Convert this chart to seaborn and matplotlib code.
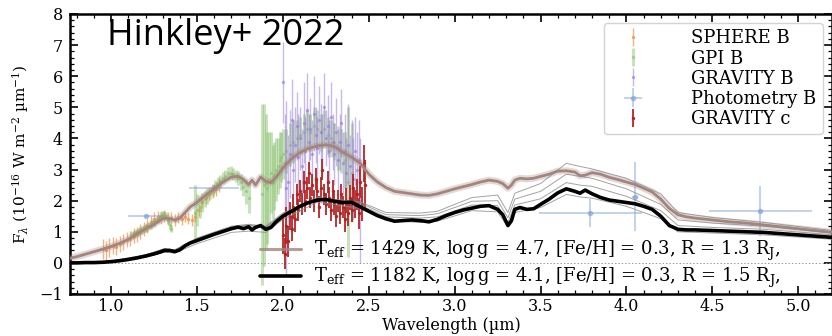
import matplotlib
matplotlib.use("Agg")
import matplotlib.pyplot as plt
import seaborn as sns
from matplotlib.lines import Line2D
from matplotlib.ticker import MultipleLocator, FormatStrFormatter

# ---------------- model spectra (wavelength in micron, flux in 1e-16 W m^-2 um^-1)
model_wl = [0.76, 0.80, 0.85, 0.90, 0.95, 1.00, 1.05, 1.10, 1.15, 1.20, 1.25, 1.28,
            1.31, 1.34, 1.37, 1.40, 1.43, 1.46, 1.50, 1.55, 1.60, 1.65, 1.70, 1.74,
            1.77, 1.80, 1.82, 1.84, 1.87, 1.90, 1.93, 1.96, 2.00, 2.05, 2.10, 2.15,
            2.20, 2.25, 2.30, 2.35, 2.40, 2.45, 2.50, 2.55, 2.60, 2.65, 2.70, 2.75,
            2.80, 2.85, 2.90, 2.95, 3.00, 3.05, 3.10, 3.15, 3.20, 3.25, 3.28, 3.31,
            3.33, 3.35, 3.38, 3.42, 3.46, 3.50, 3.55, 3.60, 3.65, 3.70, 3.73, 3.76,
            3.80, 3.85, 3.90, 3.95, 4.00, 4.05, 4.10, 4.15, 4.20, 4.25, 4.30, 4.35,
            4.40, 4.50, 4.60, 4.70, 4.80, 4.90, 5.00, 5.10, 5.20]
model_b = [0.15, 0.20, 0.28, 0.36, 0.44, 0.53, 0.63, 0.76, 0.93, 1.10, 1.24, 1.36,
           1.44, 1.42, 1.38, 1.44, 1.62, 1.80, 1.95, 2.18, 2.38, 2.60, 2.76, 2.78,
           2.68, 2.52, 2.66, 2.50, 2.76, 2.62, 2.58, 2.75, 3.05, 3.35, 3.55, 3.68,
           3.76, 3.80, 3.74, 3.55, 3.40, 3.20, 2.85, 2.60, 2.42, 2.30, 2.26, 2.22,
           2.18, 2.17, 2.22, 2.30, 2.38, 2.45, 2.52, 2.60, 2.66, 2.62, 2.55, 2.40,
           2.50, 2.66, 2.72, 2.70, 2.72, 2.78, 2.85, 2.95, 2.96, 2.92, 2.80, 2.82,
           2.90, 2.85, 2.75, 2.68, 2.60, 2.52, 2.40, 2.28, 2.05, 1.75, 1.55, 1.48,
           1.44, 1.38, 1.32, 1.28, 1.22, 1.16, 1.10, 1.04, 0.98]
model_c = [0.00, 0.00, 0.01, 0.01, 0.02, 0.04, 0.07, 0.11, 0.16, 0.22, 0.29, 0.34,
           0.40, 0.40, 0.36, 0.42, 0.55, 0.64, 0.72, 0.82, 0.92, 1.01, 1.10, 1.15,
           1.10, 1.16, 1.06, 1.14, 1.20, 1.08, 1.14, 1.32, 1.50, 1.66, 1.82, 1.94,
           2.02, 2.04, 1.98, 1.94, 1.95, 1.80, 1.66, 1.52, 1.42, 1.34, 1.36, 1.38,
           1.36, 1.32, 1.40, 1.52, 1.62, 1.70, 1.76, 1.82, 1.84, 1.72, 1.55, 1.20,
           1.35, 1.72, 1.78, 1.72, 1.74, 1.88, 2.05, 2.25, 2.38, 2.30, 2.24, 2.34,
           2.22, 2.10, 2.02, 1.98, 1.94, 1.90, 1.82, 1.72, 1.50, 1.20, 1.08, 1.06,
           1.06, 1.04, 1.02, 1.00, 0.98, 0.94, 0.90, 0.86, 0.82]

# posterior draws around the planet c model
draw_wl = [0.76, 1.00, 1.20, 1.31, 1.37, 1.50, 1.70, 1.80, 1.90, 2.00, 2.20, 2.45,
           2.60, 2.80, 2.90, 3.10, 3.25, 3.31, 3.35, 3.50, 3.65, 3.73, 3.80, 4.00,
           4.20, 4.30, 4.50, 4.80, 5.20]
draw_1 = [0.00, 0.03, 0.18, 0.34, 0.32, 0.62, 0.98, 1.02, 0.98, 1.40, 1.95, 1.75,
          1.36, 1.30, 1.34, 1.68, 1.64, 1.15, 1.62, 1.78, 2.20, 2.12, 2.08, 1.82,
          1.42, 1.00, 0.96, 0.90, 0.76]
draw_2 = [0.00, 0.05, 0.24, 0.44, 0.40, 0.76, 1.14, 1.20, 1.12, 1.55, 2.06, 1.86,
          1.48, 1.44, 1.48, 1.86, 1.84, 1.30, 1.86, 2.06, 2.58, 2.50, 2.46, 2.14,
          1.68, 1.20, 1.14, 1.08, 0.90]
draw_3 = [0.00, 0.05, 0.25, 0.45, 0.41, 0.78, 1.16, 1.22, 1.15, 1.58, 2.08, 1.92,
          1.55, 1.52, 1.58, 1.98, 2.00, 1.45, 2.05, 2.30, 2.85, 2.78, 2.72, 2.38,
          1.88, 1.38, 1.28, 1.18, 0.96]
draw_4 = [0.00, 0.06, 0.26, 0.46, 0.42, 0.80, 1.18, 1.24, 1.18, 1.60, 2.10, 1.96,
          1.62, 1.60, 1.66, 2.10, 2.18, 1.62, 2.24, 2.55, 3.20, 3.10, 3.02, 2.72,
          2.22, 1.62, 1.46, 1.30, 1.04]

# ---------------- observations
sphere_wl = [0.95, 0.97, 0.99, 1.01, 1.03, 1.05, 1.07, 1.09, 1.11, 1.13, 1.15, 1.17,
             1.19, 1.21, 1.23, 1.25, 1.27, 1.29, 1.31, 1.33, 1.35, 1.37, 1.39, 1.41,
             1.43, 1.45, 1.47, 1.49, 1.51, 1.53, 1.55, 1.57, 1.59, 1.61, 1.63]
sphere_f = [0.45, 0.40, 0.50, 0.55, 0.52, 0.62, 0.66, 0.75, 0.78, 0.88, 0.92, 1.00,
            1.10, 1.18, 1.30, 1.40, 1.48, 1.46, 1.50, 1.42, 1.45, 1.38, 1.46, 1.40,
            1.48, 1.42, 1.38, 1.48, 1.70, 1.95, 2.08, 2.20, 2.30, 2.38, 2.50]
sphere_e = [0.32, 0.30, 0.30, 0.28, 0.28, 0.26, 0.26, 0.25, 0.25, 0.24, 0.24, 0.24,
            0.22, 0.22, 0.22, 0.22, 0.20, 0.20, 0.20, 0.20, 0.18, 0.18, 0.18, 0.18,
            0.18, 0.18, 0.18, 0.18, 0.20, 0.20, 0.20, 0.20, 0.20, 0.22, 0.22]

gpi_wl = [1.12, 1.13, 1.14, 1.15, 1.16, 1.17, 1.18, 1.19, 1.20, 1.21, 1.22, 1.23,
          1.24, 1.25, 1.26, 1.27, 1.28, 1.29, 1.30, 1.31, 1.32, 1.33, 1.34, 1.35,
          1.49, 1.50, 1.515, 1.53, 1.545, 1.56, 1.575, 1.59, 1.605, 1.62, 1.635, 1.65,
          1.665, 1.68, 1.695, 1.71, 1.725, 1.74, 1.755, 1.77, 1.785, 1.80,
          1.88, 1.89, 1.90, 1.91, 1.92, 1.93, 1.94, 1.95, 1.96, 1.97, 1.98, 1.99,
          2.00, 2.02, 2.04, 2.06, 2.08, 2.10, 2.12, 2.14, 2.16, 2.18, 2.20, 2.22,
          2.24, 2.26, 2.28, 2.30, 2.32, 2.34, 2.36, 2.38, 2.40]
gpi_f = [0.90, 0.92, 0.95, 0.98, 1.00, 1.04, 1.06, 1.10, 1.12, 1.15, 1.20, 1.24,
         1.28, 1.32, 1.36, 1.40, 1.45, 1.50, 1.55, 1.56, 1.50, 1.38, 1.22, 1.10,
         1.60, 1.70, 1.80, 1.95, 2.05, 2.15, 2.25, 2.35, 2.45, 2.55, 2.62, 2.72,
         2.80, 2.88, 2.90, 2.85, 2.80, 2.72, 2.60, 2.45, 2.30, 2.10,
         2.2, 2.5, 2.6, 2.4, 2.7, 2.9, 2.6, 2.8, 3.0, 3.1, 3.3, 3.4,
         3.5, 3.6, 3.8, 3.9, 4.0, 4.1, 4.2, 4.3, 4.2, 4.4, 4.3, 4.2,
         4.3, 4.1, 4.0, 3.9, 3.7, 3.6, 3.3, 2.6, 2.9]
gpi_e = [0.12] * 24 + \
        [0.9, 0.5, 0.35, 0.3, 0.25, 0.25, 0.2, 0.2, 0.2, 0.2, 0.2, 0.2,
         0.2, 0.2, 0.2, 0.2, 0.2, 0.22, 0.25, 0.3, 0.4, 0.5] + \
        [2.9, 2.6, 2.2, 1.8, 1.5, 1.3, 1.2, 1.1, 1.0, 0.9, 0.9, 0.8,
         0.8, 0.7, 0.7, 0.7, 0.6, 0.6, 0.6, 0.6, 0.6, 0.6, 0.6, 0.6,
         0.6, 0.6, 0.6, 0.6, 0.7, 0.7, 0.9, 2.4, 1.6]

gravb_wl = [2.00, 2.01, 2.02, 2.03, 2.04, 2.05, 2.06, 2.07, 2.08, 2.09, 2.10, 2.11,
            2.12, 2.13, 2.14, 2.15, 2.16, 2.17, 2.18, 2.19, 2.20, 2.21, 2.22, 2.23,
            2.24, 2.25, 2.26, 2.27, 2.28, 2.29, 2.30, 2.31, 2.32, 2.33, 2.34, 2.35,
            2.36, 2.37, 2.38, 2.39, 2.40, 2.41, 2.42, 2.43, 2.44, 2.45]
gravb_f = [5.8, 3.2, 2.4, 2.6, 3.5, 4.6, 3.0, 3.8, 4.4, 3.4, 4.0, 3.1,
           4.5, 3.6, 4.9, 3.9, 4.3, 3.5, 4.8, 4.1, 3.7, 4.6, 4.2, 3.8,
           5.0, 4.0, 4.4, 3.6, 4.7, 3.9, 3.5, 4.2, 3.3, 3.9, 4.5, 3.2,
           3.6, 2.9, 3.8, 3.1, 3.4, 2.7, 3.6, 3.0, 3.3, 2.0]
gravb_e = [1.3, 1.6, 2.8, 1.5, 1.4, 1.3, 1.6, 1.2, 1.1, 1.4, 1.0, 1.2,
           1.3, 1.1, 1.2, 0.9, 1.0, 1.1, 1.2, 0.9, 1.0, 1.1, 0.9, 1.0,
           1.1, 0.9, 1.0, 1.0, 1.1, 0.9, 1.0, 1.1, 1.0, 0.9, 1.1, 1.0,
           1.2, 1.1, 1.3, 1.0, 1.2, 1.3, 1.1, 1.2, 1.3, 2.0]

gravc_wl = [2.00, 2.01, 2.02, 2.03, 2.04, 2.05, 2.06, 2.07, 2.08, 2.09, 2.10, 2.11,
            2.12, 2.13, 2.14, 2.15, 2.16, 2.17, 2.18, 2.19, 2.20, 2.21, 2.22, 2.23,
            2.24, 2.25, 2.26, 2.27, 2.28, 2.29, 2.30, 2.31, 2.32, 2.33, 2.34, 2.35,
            2.36, 2.37, 2.38, 2.39, 2.40, 2.41, 2.42, 2.43, 2.44, 2.45, 2.46, 2.47, 2.48]
gravc_f = [0.9, 0.3, 1.2, 0.7, 1.5, 1.1, 1.8, 1.4, 2.2, 1.7, 2.3, 1.9,
           2.6, 2.0, 2.4, 2.9, 2.1, 2.5, 2.0, 2.7, 2.3, 1.8, 2.4, 3.0,
           2.2, 1.9, 2.6, 2.1, 1.7, 2.3, 1.9, 1.5, 2.0, 1.6, 2.2, 1.8,
           1.4, 2.0, 1.6, 2.1, 1.7, 2.4, 1.9, 2.2, 1.6, 2.6, 1.9, 3.2, 2.5]
gravc_e = [0.6, 0.5, 0.6, 0.5, 0.45, 0.4, 0.4, 0.4, 0.35, 0.35, 0.35, 0.35,
           0.35, 0.35, 0.35, 0.35, 0.35, 0.35, 0.35, 0.35, 0.35, 0.35, 0.35, 0.35,
           0.35, 0.35, 0.35, 0.35, 0.35, 0.35, 0.35, 0.35, 0.35, 0.35, 0.35, 0.35,
           0.4, 0.4, 0.4, 0.4, 0.4, 0.45, 0.45, 0.5, 0.5, 0.5, 0.55, 0.6, 0.8]

phot_wl = [1.20, 1.60, 3.79, 4.05, 4.78]
phot_wl_err = [0.10, 0.145, 0.30, 0.02, 0.30]
phot_f = [1.50, 2.40, 1.60, 2.13, 1.68]
phot_f_err = [0.05, 0.05, 0.45, 1.10, 0.80]

labels_b = r"$\mathrm{T_{eff}}$ = 1429 K, log$\,$g = 4.7, [Fe/H] = 0.3, R = 1.3 R$_\mathrm{J}$,"
labels_c = r"$\mathrm{T_{eff}}$ = 1182 K, log$\,$g = 4.1, [Fe/H] = 0.3, R = 1.5 R$_\mathrm{J}$,"

# ---------------- style
sns.set_theme(style="ticks")
plt.rcParams.update({
    "font.family": ["DejaVu Serif"],
    "mathtext.fontset": "dejavuserif",
    "text.color": "black",
    "axes.labelcolor": "black",
    "axes.linewidth": 1.8,
    "axes.edgecolor": "black",
    "xtick.direction": "in", "ytick.direction": "in",
    "xtick.top": True, "ytick.right": True,
    "xtick.minor.visible": True, "ytick.minor.visible": True,
    "xtick.major.size": 6, "ytick.major.size": 6,
    "xtick.minor.size": 3, "ytick.minor.size": 3,
    "xtick.major.width": 1.2, "ytick.major.width": 1.2,
    "xtick.minor.width": 0.9, "ytick.minor.width": 0.9,
    "xtick.color": "black", "ytick.color": "black",
    "xtick.labelcolor": "black", "ytick.labelcolor": "black",
})

fig = plt.figure(figsize=(8.32, 3.36), dpi=100)
ax = fig.add_axes([70 / 832, 42 / 336, 762 / 832, 280 / 336])

c_sphere = "#f09a55"
c_gpi = "#86c06a"
c_gravb = "#9a80d8"
c_phot = "#7c9fd6"
c_gravc = "#b3201f"
c_brown = "#a3857e"

eb_kw = dict(fmt=".", markersize=3, elinewidth=1.0, capsize=0)
h_sphere = ax.errorbar(sphere_wl, sphere_f, yerr=sphere_e, color=c_sphere, alpha=0.75,
                       zorder=2, **eb_kw)
h_gpi = ax.errorbar(gpi_wl, gpi_f, yerr=gpi_e, color=c_gpi, alpha=0.45, zorder=2,
                    fmt=".", markersize=3, elinewidth=2.2, capsize=0)
h_gravb = ax.errorbar(gravb_wl, gravb_f, yerr=gravb_e, color=c_gravb, alpha=0.55,
                      zorder=3, **eb_kw)
h_phot = ax.errorbar(phot_wl, phot_f, xerr=phot_wl_err, yerr=phot_f_err, color=c_phot,
                     alpha=0.55, zorder=3, fmt="o", markersize=3, elinewidth=1.2, capsize=0)
h_gravc = ax.errorbar(gravc_wl, gravc_f, yerr=gravc_e, color=c_gravc, alpha=0.9,
                      zorder=4, fmt=".", markersize=3, elinewidth=1.4, capsize=0)

ax.axhline(0, color="#999999", lw=0.7, ls=(0, (1.5, 2.0)), zorder=1)

# planet b best fit with soft envelope
sns.lineplot(x=model_wl, y=model_b, ax=ax, color=c_brown, linewidth=5, alpha=0.3,
             estimator=None, sort=False, zorder=5)
sns.lineplot(x=model_wl, y=model_b, ax=ax, color=c_brown, linewidth=2.0,
             estimator=None, sort=False, zorder=5)

# planet c posterior draws and best fit
for draw in (draw_1, draw_2, draw_3, draw_4):
    sns.lineplot(x=draw_wl, y=draw, ax=ax, color="#8c8c8c", linewidth=0.7, alpha=0.8,
                 estimator=None, sort=False, zorder=5)
sns.lineplot(x=model_wl, y=model_c, ax=ax, color="black", linewidth=2.6,
             estimator=None, sort=False, zorder=6)

ax.set_xlim(0.76, 5.197)
ax.set_ylim(-1, 8)
ax.xaxis.set_major_locator(MultipleLocator(0.5))
ax.xaxis.set_minor_locator(MultipleLocator(0.1))
ax.xaxis.set_major_formatter(FormatStrFormatter("%.1f"))
ax.yaxis.set_major_locator(MultipleLocator(1))
ax.yaxis.set_minor_locator(MultipleLocator(0.2))
ax.tick_params(labelsize=11.5)
ax.tick_params(axis="x", pad=3)
ax.tick_params(axis="y", pad=5)
ax.set_xlabel("Wavelength (µm)", fontsize=11.5, labelpad=1)
ax.set_ylabel(r"F$_\lambda$ (10$^{-16}$ W m$^{-2}$ µm$^{-1}$)", fontsize=11, labelpad=6)

leg1 = ax.legend([h_sphere, h_gpi, h_gravb, h_phot, h_gravc],
                 ["SPHERE B", "GPI B", "GRAVITY B", "Photometry B", "GRAVITY c"],
                 loc="upper right", fontsize=13, frameon=True, fancybox=True,
                 edgecolor="#cccccc", framealpha=0.85, labelspacing=0.12,
                 borderpad=0.35, handlelength=2.5, handletextpad=2.0,
                 borderaxespad=0.5)
ax.add_artist(leg1)

h_mb = Line2D([], [], color=c_brown, lw=2.2, alpha=0.8)
h_mc = Line2D([], [], color="black", lw=2.6)
ax.legend([h_mb, h_mc], [labels_b, labels_c], loc="upper left",
          bbox_to_anchor=(0.249, 0.197), frameon=False, fontsize=13,
          handlelength=2.3, handletextpad=0.7, borderpad=0, borderaxespad=0,
          labelspacing=0.15)

fig.text(107 / 832, 1 - 45 / 336, "Hinkley+ 2022", fontsize=26, family="Open Sans",
         ha="left", va="baseline", color="black")

fig.savefig("out.png", dpi=100)
